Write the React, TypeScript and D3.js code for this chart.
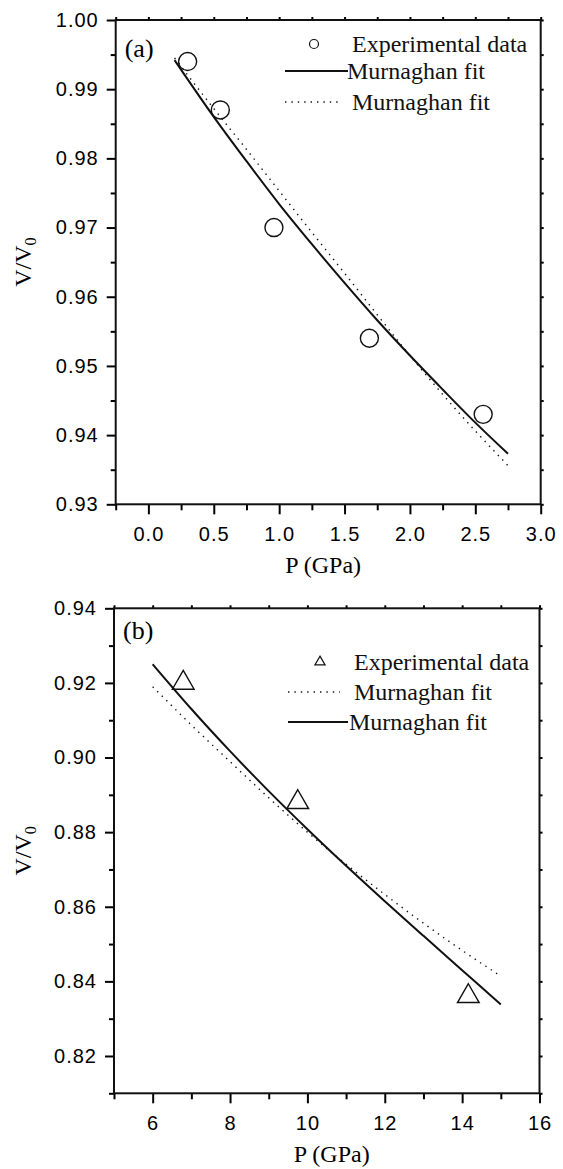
import React, { useEffect, useRef } from "react";
import * as d3 from "d3";

// panel (a)
const aExpP = [0.3, 0.55, 0.96, 1.69, 2.56];
const aExpV = [0.994, 0.987, 0.97, 0.954, 0.943];
const aFitP = [0.2, 0.5, 0.75, 1.0, 1.25, 1.5, 1.75, 2.0, 2.25, 2.5, 2.75];
const aSolidV = [0.9942, 0.986, 0.9796, 0.9734, 0.9676, 0.962, 0.9566, 0.9515, 0.9466, 0.9418, 0.9373];
const aDotV = [0.9945, 0.9872, 0.9813, 0.9753, 0.9693, 0.9634, 0.9574, 0.9515, 0.9459, 0.9406, 0.9356];
const aXMajor = [0, 0.5, 1.0, 1.5, 2.0, 2.5, 3.0];
const aXMinor = [-0.25, 0.25, 0.75, 1.25, 1.75, 2.25, 2.75];
const aYMajor = [0.93, 0.94, 0.95, 0.96, 0.97, 0.98, 0.99, 1.0];
const aYMinor = [0.935, 0.945, 0.955, 0.965, 0.975, 0.985, 0.995];

// panel (b)
const bExpP = [6.79, 9.75, 14.16];
const bExpV = [0.92, 0.888, 0.836];
const bFitP = [6, 7, 8, 9, 10, 11, 12, 13, 14, 15];
const bSolidV = [0.925, 0.913, 0.9017, 0.891, 0.8808, 0.871, 0.8615, 0.8522, 0.843, 0.8338];
const bDotV = [0.919, 0.9087, 0.8989, 0.8892, 0.88, 0.8714, 0.8633, 0.8556, 0.8483, 0.8414];
const bXMajor = [6, 8, 10, 12, 14, 16];
const bXMinor = [5, 7, 9, 11, 13, 15];
const bYMajor = [0.82, 0.84, 0.86, 0.88, 0.9, 0.92, 0.94];
const bYMinor = [0.81, 0.83, 0.85, 0.87, 0.89, 0.91, 0.93];

const legendLabels = ["Experimental data", "Murnaghan fit", "Murnaghan fit"];

const SANS = "'Liberation Sans', Arial, sans-serif";
const SERIF = "'Liberation Serif', 'Times New Roman', serif";

function drawPanel(svg, c) {
  const x = d3.scaleLinear().domain(c.xDomain).range([c.left, c.right]);
  const y = d3.scaleLinear().domain(c.yDomain).range([c.bottom, c.top]);
  const g = svg.append("g");

  const styleAxis = (sel) => {
    sel.select(".domain").remove();
    sel.selectAll("line").attr("stroke-width", 2);
    sel.attr("font-family", SANS).attr("font-size", 20).attr("letter-spacing", 1);
  };

  // bottom ticks
  g.append("g").attr("transform", `translate(0,${c.bottom})`)
    .call(d3.axisBottom(x).tickValues(c.xMajor).tickSize(10).tickPadding(13).tickFormat(d3.format(c.xFmt))).call(styleAxis);
  g.append("g").attr("transform", `translate(0,${c.bottom})`)
    .call(d3.axisBottom(x).tickValues(c.xMinor).tickSize(6).tickFormat(() => "")).call(styleAxis);
  // left ticks
  g.append("g").attr("transform", `translate(${c.left},0)`)
    .call(d3.axisLeft(y).tickValues(c.yMajor).tickSize(9).tickPadding(8).tickFormat(d3.format(".2f"))).call(styleAxis);
  g.append("g").attr("transform", `translate(${c.left},0)`)
    .call(d3.axisLeft(y).tickValues(c.yMinor).tickSize(5).tickFormat(() => "")).call(styleAxis);
  // top / right short ticks
  g.append("g").attr("transform", `translate(0,${c.top})`)
    .call(d3.axisTop(x).tickValues(c.xMajor.concat(c.xMinor)).tickSize(3).tickFormat(() => "")).call(styleAxis);
  g.append("g").attr("transform", `translate(${c.right},0)`)
    .call(d3.axisRight(y).tickValues(c.yMajor.concat(c.yMinor)).tickSize(3).tickFormat(() => "")).call(styleAxis);

  g.append("rect").attr("x", c.left).attr("y", c.top).attr("width", c.right - c.left).attr("height", c.bottom - c.top)
    .attr("fill", "none").attr("stroke", "#111").attr("stroke-width", 2);

  const line = d3.line().x((d) => x(d[0])).y((d) => y(d[1])).curve(d3.curveMonotoneX);
  g.append("path").datum(c.fitP.map((p, i) => [p, c.solidV[i]])).attr("d", line)
    .attr("fill", "none").attr("stroke", "#111").attr("stroke-width", 2);
  g.append("path").datum(c.fitP.map((p, i) => [p, c.dotV[i]])).attr("d", line)
    .attr("fill", "none").attr("stroke", "#111").attr("stroke-width", 1.4).attr("stroke-dasharray", "1.4 5");

  const pts = c.expP.map((p, i) => [p, c.expV[i]]);
  if (c.marker === "circle") {
    g.selectAll(".pt").data(pts).join("circle").attr("cx", (d) => x(d[0])).attr("cy", (d) => y(d[1])).attr("r", 9)
      .attr("fill", "none").attr("stroke", "#111").attr("stroke-width", 1.4);
  } else {
    g.selectAll(".pt").data(pts).join("path").attr("d", d3.symbol(d3.symbolTriangle, 204))
      .attr("transform", (d) => `translate(${x(d[0])},${y(d[1])})`)
      .attr("fill", "none").attr("stroke", "#111").attr("stroke-width", 1.4);
  }

  // panel letter
  g.append("text").attr("x", c.left + 9).attr("y", c.top + c.letterDy).attr("font-family", SERIF).attr("font-size", 26).text(c.letter);

  // legend
  const lg = g.append("g").attr("font-family", SERIF).attr("font-size", 24).attr("fill", "#111");
  c.legendKinds.forEach((kind, i) => {
    const ly = c.legendY[i];
    if (kind === "circle") {
      lg.append("circle").attr("cx", c.legendSym).attr("cy", ly).attr("r", 4.5).attr("fill", "none").attr("stroke", "#111").attr("stroke-width", 1.2);
    } else if (kind === "triangle") {
      lg.append("path").attr("d", d3.symbol(d3.symbolTriangle, 45)).attr("transform", `translate(${c.legendSym},${ly})`)
        .attr("fill", "none").attr("stroke", "#111").attr("stroke-width", 1.2);
    } else {
      lg.append("line").attr("x1", c.legendLine[0]).attr("x2", kind === "solid" ? c.legendLine[1] + 8 : c.legendLine[1])
        .attr("y1", ly).attr("y2", ly).attr("stroke", "#111")
        .attr("stroke-width", kind === "solid" ? 2 : 1.4).attr("stroke-dasharray", kind === "solid" ? null : "1.4 5");
    }
    lg.append("text").attr("x", kind === "solid" ? c.legendText - 5 : c.legendText).attr("y", ly + 8).text(legendLabels[i]);
  });

  // axis titles
  g.append("text").attr("x", (c.left + c.right) / 2 + c.titleShift).attr("y", c.bottom + 69).attr("text-anchor", "middle")
    .attr("font-family", SERIF).attr("font-size", 24).text("P (GPa)");
  const yt = g.append("text").attr("transform", `translate(31,${(c.top + c.bottom) / 2}) rotate(-90)`).attr("text-anchor", "middle")
    .attr("font-family", SERIF).attr("font-size", 24);
  yt.append("tspan").text("V/V");
  yt.append("tspan").attr("font-size", 16).attr("dy", 5).text("0");
}

export default function App() {
  const ref = useRef(null);
  useEffect(() => {
    const svg = d3.select(ref.current);
    svg.selectAll("*").remove();
    drawPanel(svg, {
      left: 115.7, right: 540.7, top: 20, bottom: 504.3, xDomain: [-0.25, 3.0], yDomain: [0.93, 1.0],
      xMajor: aXMajor, xMinor: aXMinor, yMajor: aYMajor, yMinor: aYMinor, xFmt: ".1f",
      expP: aExpP, expV: aExpV, fitP: aFitP, solidV: aSolidV, dotV: aDotV, marker: "circle", letter: "(a)", letterDy: 37,
      legendKinds: ["circle", "solid", "dotted"], legendY: [44, 71, 102], legendSym: 314, legendLine: [285, 340], legendText: 352,
      titleShift: -5,
    });
    drawPanel(svg, {
      left: 114, right: 539.5, top: 608.3, bottom: 1093.3, xDomain: [5, 16], yDomain: [0.81, 0.94],
      xMajor: bXMajor, xMinor: bXMinor, yMajor: bYMajor, yMinor: bYMinor, xFmt: "d",
      expP: bExpP, expV: bExpV, fitP: bFitP, solidV: bSolidV, dotV: bDotV, marker: "triangle", letter: "(b)", letterDy: 31,
      legendKinds: ["triangle", "dotted", "solid"], legendY: [662, 692, 722], legendSym: 320, legendLine: [288, 340], legendText: 354,
      titleShift: 5,
    });
  }, []);
  return (
    <div style={{ position: "absolute", left: 0, top: 0 }}>
      <svg ref={ref} width={563} height={1169} style={{ display: "block", background: "#fff" }} />
    </div>
  );
}
